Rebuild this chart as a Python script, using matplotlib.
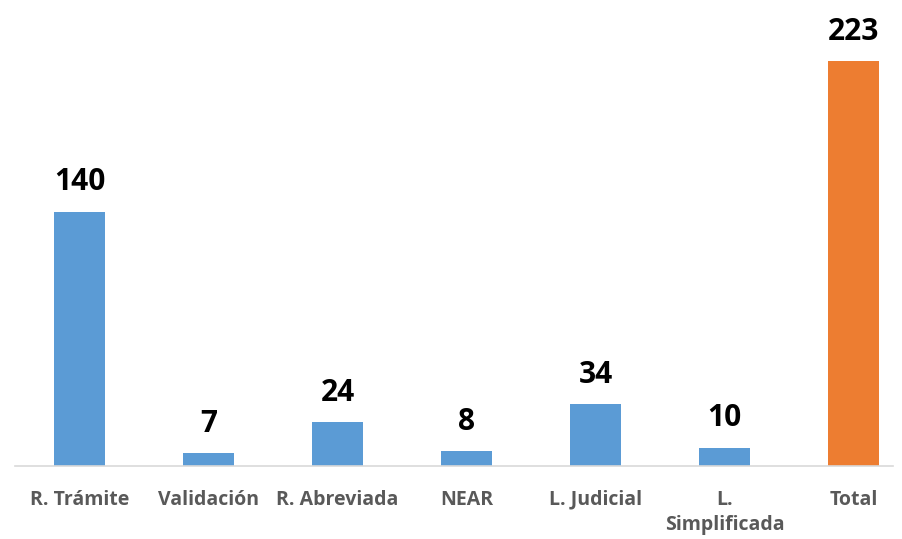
import matplotlib
matplotlib.use("Agg")
import matplotlib.pyplot as plt

categories = ["R. Trámite", "Validación", "R. Abreviada", "NEAR", "L. Judicial", "L.\nSimplificada", "Total"]
values = [140, 7, 24, 8, 34, 10, 223]
colors = ["#5B9BD5"] * 6 + ["#ED7D31"]

plt.rcParams['font.family'] = ['Open Sans', 'DejaVu Sans']

fig = plt.figure(figsize=(9.03, 5.39), dpi=100)
W, H = 903, 539
left, right = 15, 893
base = 466
ax = fig.add_axes([left / W, (H - base) / H, (right - left) / W, base / H])

x = list(range(len(categories)))
bars = ax.bar(x, values, width=0.40, color=colors)
slot = 129
ax.set_xlim(-0.5, -0.5 + (right - left) / slot)
ax.set_ylim(0, base / (254 / 140))

for xi, v in zip(x, values):
    ax.text(xi, v + 8, str(v), ha='center', va='bottom', fontsize=21.5, fontweight='bold', color='black')

ax.set_xticks(x)
ax.set_xticklabels(categories, fontsize=14, fontweight='bold', color='#595959', linespacing=1.35, va='top')
ax.tick_params(axis='x', length=0, pad=17)
ax.set_yticks([])
for s in ['top', 'right', 'left']:
    ax.spines[s].set_visible(False)
ax.spines['bottom'].set_color('#D9D9D9')
ax.spines['bottom'].set_linewidth(1.2)

fig.savefig("out.png", dpi=100)
